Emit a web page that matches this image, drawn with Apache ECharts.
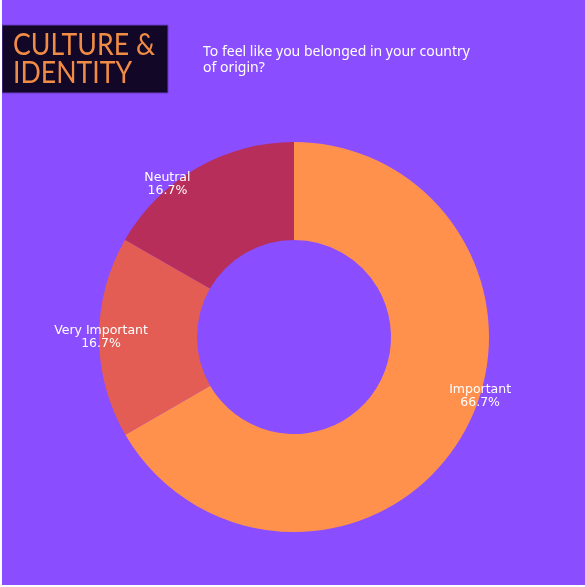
<!DOCTYPE html>
<html>
<head>
<meta charset="utf-8">
<script src="https://cdn.jsdelivr.net/npm/echarts@6/dist/echarts.min.js"></script>
<style>
html,body{margin:0;padding:0;background:#fff;}
#chart{position:absolute;left:2px;top:0;width:583px;height:585px;}
</style>
</head>
<body>
<div id="chart"></div>
<script>
const categories = ['Important', 'Very Important', 'Neutral'];
const values = [66.7, 16.7, 16.7];
const colors = ['#FF914D', '#E35D55', '#B72E5A'];
const labelShift = { 'Important': [57, -15], 'Very Important': [-44, 0], 'Neutral': [-52, -24] };

const chart = echarts.init(document.getElementById('chart'));
chart.setOption({
  backgroundColor: '#8A4DFF',
  animation: false,
  graphic: [
    { type: 'rect', shape: { x: 0, y: 25, width: 166, height: 68 },
      style: { fill: '#120726', stroke: '#6a3bc4', lineWidth: 1 } },
    { type: 'text', x: 11, y: 31, scaleX: 0.86,
      style: { text: 'CULTURE &\nIDENTITY', fill: '#F08C45', font: '400 31px Lato', lineHeight: 28 } },
    { type: 'text', left: 201, top: 44,
      style: { text: 'To feel like you belonged in your country\nof origin?', fill: '#ffffff', font: '14px "Noto Sans"', lineHeight: 16 } }
  ],
  series: [{
    type: 'pie',
    center: [292, 337],
    radius: [97, 195],
    startAngle: 90,
    clockwise: true,
    avoidLabelOverlap: false,
    label: {
      show: true,
      position: 'inside',
      color: '#ffffff',
      fontFamily: 'DejaVu Sans',
      fontSize: 12.5,
      lineHeight: 13,
      formatter: p => p.name + '\n' + p.value.toFixed(1) + '%'
    },
    labelLine: { show: false },
    labelLayout: function (params) {
      const name = categories[params.dataIndex];
      const s = labelShift[name];
      return { dx: s[0], dy: s[1] };
    },
    data: categories.map((c, i) => ({ name: c, value: values[i], itemStyle: { color: colors[i] } }))
  }]
});
</script>
</body>
</html>
